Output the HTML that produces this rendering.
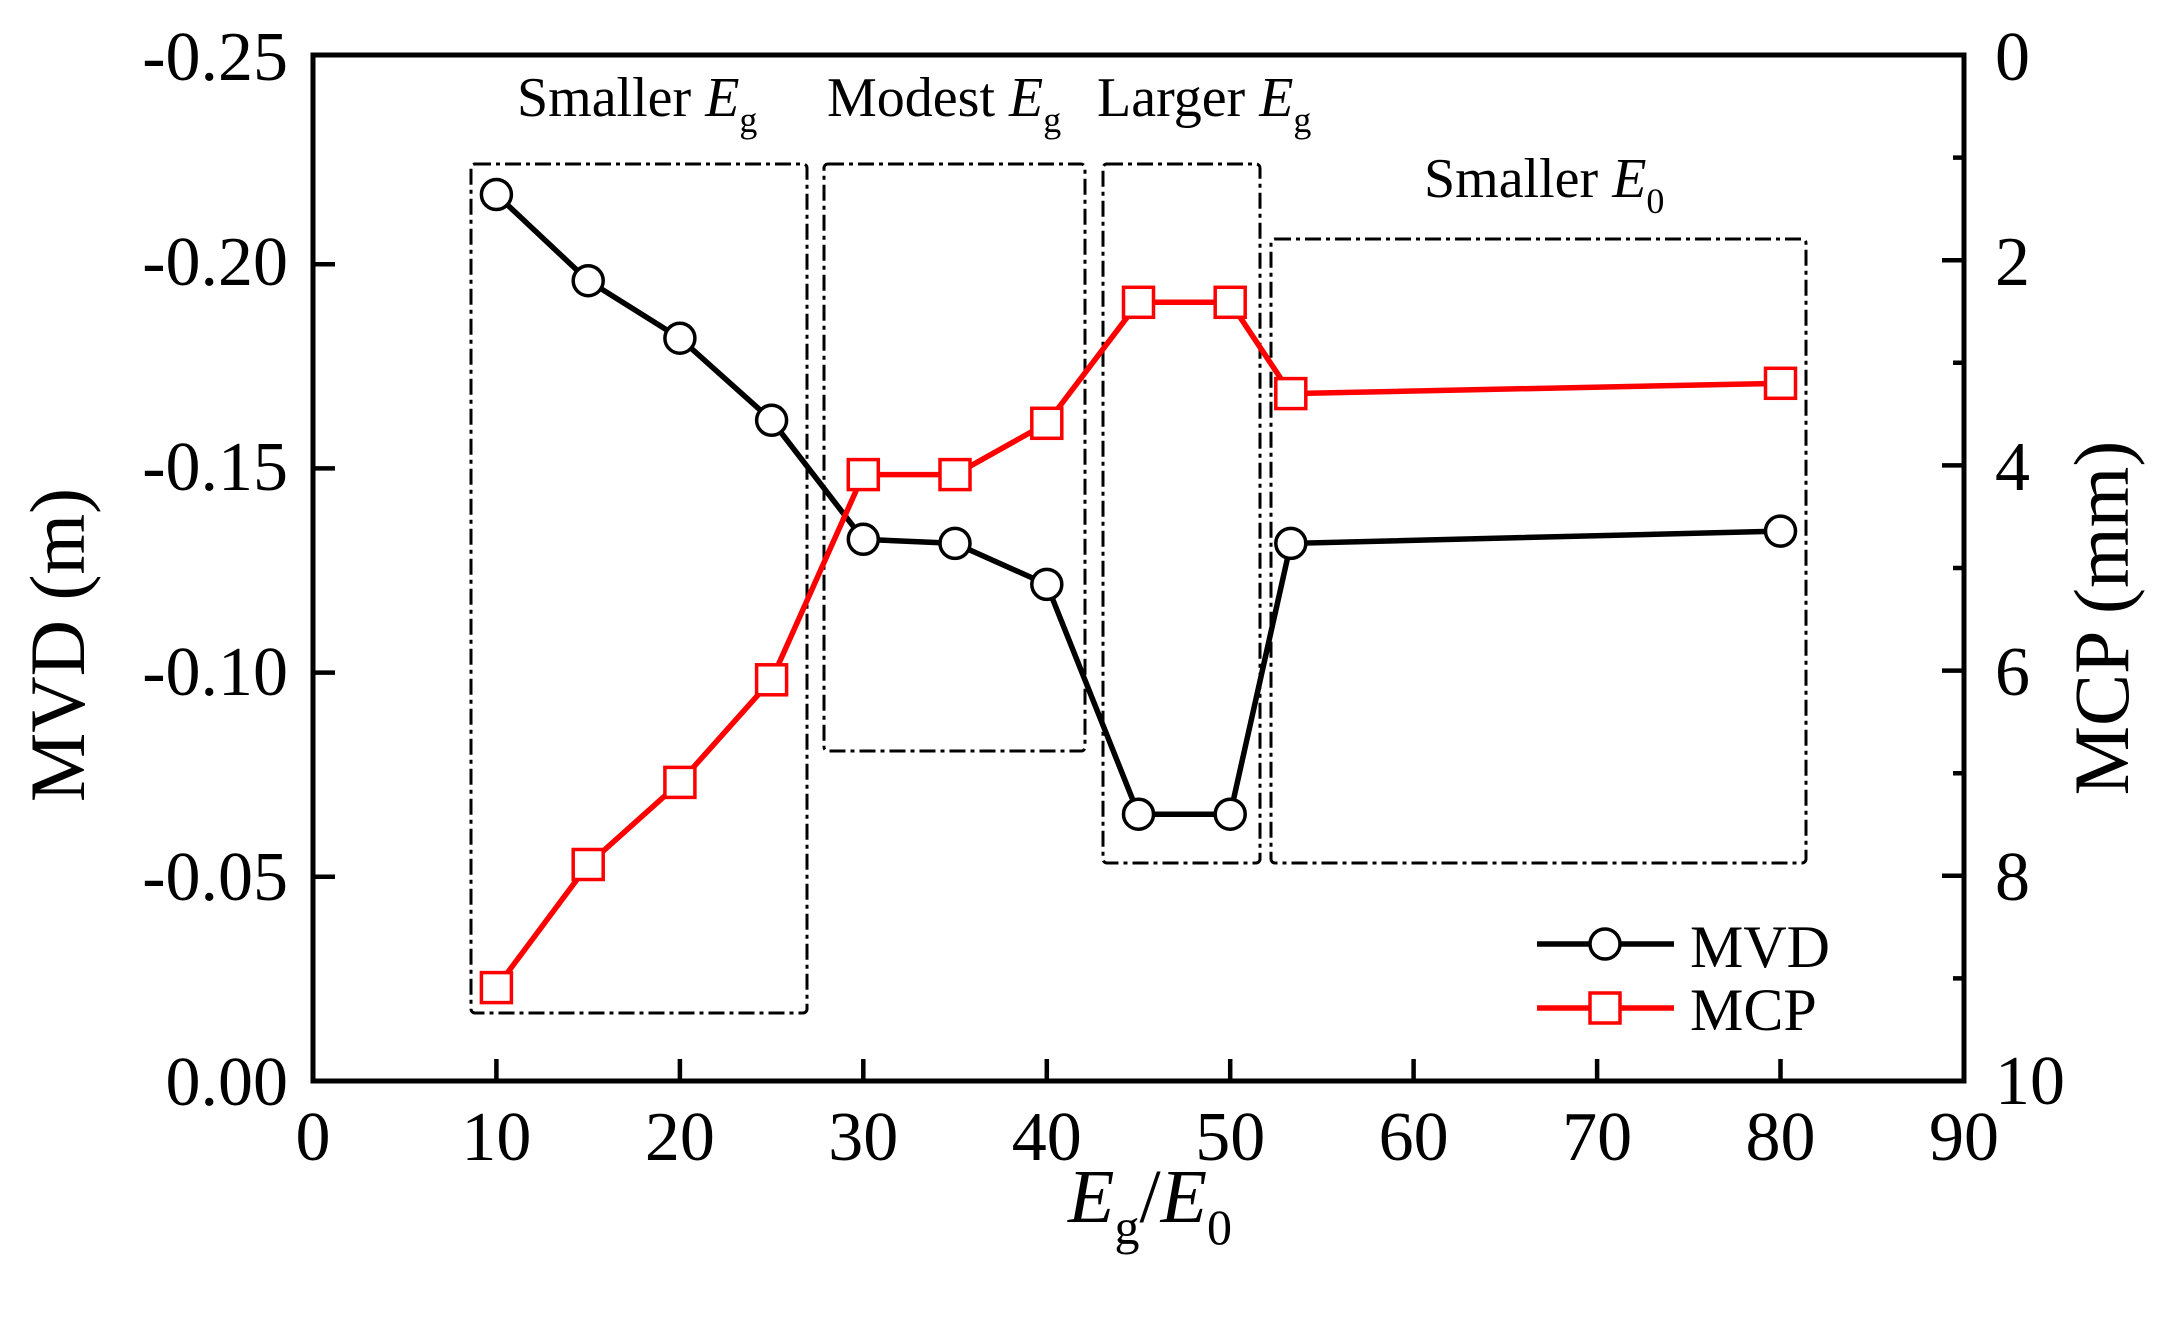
<!DOCTYPE html>
<html><head><meta charset="utf-8"><style>
html,body{margin:0;padding:0;background:#fff;}
svg{display:block;}
text{font-family:"Liberation Serif",serif;fill:#000;}
</style></head><body>
<svg width="2176" height="1325" viewBox="0 0 2176 1325" xmlns="http://www.w3.org/2000/svg">
<!-- boxes -->
<g fill="none" stroke="#000" stroke-width="3" stroke-dasharray="16 5 4 5">
<rect x="471" y="164" width="336" height="849" rx="4"/>
<rect x="824" y="164" width="261" height="587" rx="4"/>
<rect x="1103" y="164" width="157" height="699" rx="4"/>
<rect x="1271" y="239" width="535" height="624" rx="4"/>
</g>
<!-- axes frame -->
<rect x="313" y="55" width="1651" height="1026" fill="none" stroke="#000" stroke-width="5"/>
<g stroke="#000" stroke-width="4.5">
<path d="M313 876.8h22M313 672.6h22M313 468.4h22M313 264.2h22"/>
<path d="M496.4 1081v-22M679.9 1081v-22M863.3 1081v-22M1046.8 1081v-22M1230.2 1081v-22M1413.6 1081v-22M1597.1 1081v-22M1780.5 1081v-22"/>
<path d="M1964 260.2h-22M1964 465.4h-22M1964 670.6h-22M1964 875.8h-22"/>
<path d="M1964 157.6h-11M1964 362.8h-11M1964 568h-11M1964 773.2h-11M1964 978.4h-11"/>
</g>
<!-- left labels -->
<g font-size="70" text-anchor="end">
<text x="288" y="80">-0.25</text>
<text x="288" y="285">-0.20</text>
<text x="288" y="490">-0.15</text>
<text x="288" y="695">-0.10</text>
<text x="288" y="900">-0.05</text>
<text x="288" y="1105">0.00</text>
</g>
<!-- right labels -->
<g font-size="70" text-anchor="start">
<text x="1995" y="80">0</text>
<text x="1995" y="285">2</text>
<text x="1995" y="490">4</text>
<text x="1995" y="695">6</text>
<text x="1995" y="900">8</text>
<text x="1995" y="1104">10</text>
</g>
<!-- bottom labels -->
<g font-size="70" text-anchor="middle">
<text x="313" y="1160">0</text>
<text x="496.4" y="1160">10</text>
<text x="679.9" y="1160">20</text>
<text x="863.3" y="1160">30</text>
<text x="1046.8" y="1160">40</text>
<text x="1230.2" y="1160">50</text>
<text x="1413.6" y="1160">60</text>
<text x="1597.1" y="1160">70</text>
<text x="1780.5" y="1160">80</text>
<text x="1964" y="1160">90</text>
</g>
<!-- axis titles -->
<text font-size="78" text-anchor="middle" transform="translate(84,645) rotate(-90)">MVD (m)</text>
<text font-size="78" text-anchor="middle" transform="translate(2128,618) rotate(-90)">MCP (mm)</text>
<text x="1068" y="1222" font-size="76"><tspan font-style="italic">E</tspan><tspan font-size="50" dy="22">g</tspan><tspan dy="-22">/</tspan><tspan font-style="italic">E</tspan><tspan font-size="50" dy="22">0</tspan></text>
<!-- annotations -->
<g font-size="56">
<text x="517" y="116">Smaller <tspan font-style="italic">E</tspan><tspan font-size="36" dy="16">g</tspan></text>
<text x="827" y="116">Modest <tspan font-style="italic">E</tspan><tspan font-size="36" dy="16">g</tspan></text>
<text x="1097" y="116">Larger <tspan font-style="italic">E</tspan><tspan font-size="36" dy="16">g</tspan></text>
<text x="1424" y="197">Smaller <tspan font-style="italic">E</tspan><tspan font-size="36" dy="16">0</tspan></text>
</g>
<!-- MVD series -->
<polyline fill="none" stroke="#000" stroke-width="5.5" points="496.4,194.5 588.2,280.7 679.9,338.2 771.6,420.3 863.3,539.3 955,543.4 1046.8,584.4 1138.5,814.2 1230.2,814.2 1290.8,543.4 1780.5,531.1"/>
<g fill="#fff" stroke="#000" stroke-width="3.5">
<circle cx="496.4" cy="194.5" r="15"/><circle cx="588.2" cy="280.7" r="15"/><circle cx="679.9" cy="338.2" r="15"/><circle cx="771.6" cy="420.3" r="15"/><circle cx="863.3" cy="539.3" r="15"/><circle cx="955" cy="543.4" r="15"/><circle cx="1046.8" cy="584.4" r="15"/><circle cx="1138.5" cy="814.2" r="15"/><circle cx="1230.2" cy="814.2" r="15"/><circle cx="1290.8" cy="543.4" r="15"/><circle cx="1780.5" cy="531.1" r="15"/>
</g>
<!-- MCP series -->
<polyline fill="none" stroke="#f00" stroke-width="5.5" points="496.4,987.6 588.2,864.5 679.9,782.4 771.6,679.8 863.3,474.6 955,474.6 1046.8,423.3 1138.5,302.3 1230.2,302.3 1290.8,393.6 1780.5,383.3"/>
<g fill="#fff" stroke="#f00" stroke-width="3.5">
<rect x="481.4" y="972.6" width="30" height="30"/><rect x="573.2" y="849.5" width="30" height="30"/><rect x="664.9" y="767.4" width="30" height="30"/><rect x="756.6" y="664.8" width="30" height="30"/><rect x="848.3" y="459.6" width="30" height="30"/><rect x="940" y="459.6" width="30" height="30"/><rect x="1031.8" y="408.3" width="30" height="30"/><rect x="1123.5" y="287.3" width="30" height="30"/><rect x="1215.2" y="287.3" width="30" height="30"/><rect x="1275.8" y="378.6" width="30" height="30"/><rect x="1765.5" y="368.3" width="30" height="30"/>
</g>
<!-- legend -->
<path d="M1537 944h137" stroke="#000" stroke-width="5.5"/>
<circle cx="1605" cy="944" r="15" fill="#fff" stroke="#000" stroke-width="3.5"/>
<text x="1690" y="967" font-size="60">MVD</text>
<path d="M1537 1008h137" stroke="#f00" stroke-width="5.5"/>
<rect x="1590" y="993" width="30" height="30" fill="#fff" stroke="#f00" stroke-width="3.5"/>
<text x="1690" y="1030" font-size="60">MCP</text>
</svg>
</body></html>
